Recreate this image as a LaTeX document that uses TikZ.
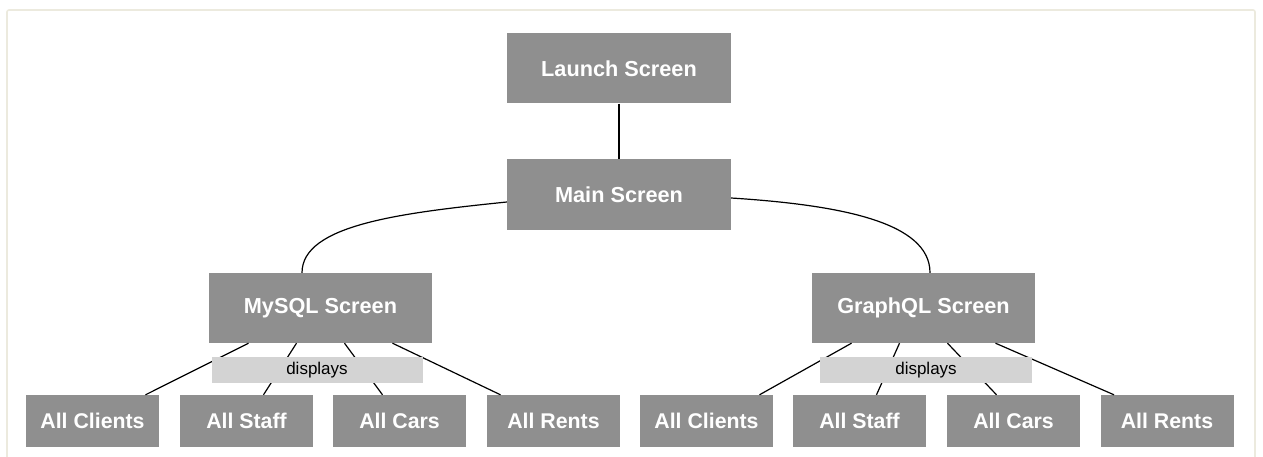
\documentclass[tikz,border=0pt]{standalone}
\usepackage{fontspec}
\setmainfont{Liberation Sans}
\usetikzlibrary{calc}
\definecolor{boxgray}{RGB}{143,143,143}
\definecolor{lblgray}{RGB}{211,211,211}
\definecolor{framec}{RGB}{236,234,222}
\begin{document}
\begin{tikzpicture}[x=1pt,y=-1pt,
  screen/.style={fill=boxgray,text=white,font=\fontsize{21.7}{25}\selectfont\bfseries,
    minimum width=224pt,minimum height=70pt,inner sep=0pt},
  leaf/.style={fill=boxgray,text=white,font=\fontsize{21.3}{25}\selectfont\bfseries,
    minimum width=133pt,minimum height=52pt,inner sep=0pt},
  lbl/.style={fill=lblgray,text=black,font=\fontsize{17}{20}\selectfont,
    minimum width=211pt,minimum height=26pt,inner sep=0pt},
  conn/.style={line width=1.2pt,black}]
\useasboundingbox (0,0) rectangle (1263,457);
\draw[framec,line width=1.6pt,rounded corners=2pt] (7,10) rectangle (1255,480);

\node[screen] (launch) at (619,68.5) {Launch Screen};
\node[screen] (main) at (619,194.5) {Main Screen};
\node[screen,minimum width=223pt] (mysql) at (320.5,308) {MySQL Screen};
\node[screen,minimum width=223pt] (graphql) at (923.5,308) {GraphQL Screen};

\node[leaf] (lc) at (92.5,421) {All Clients};
\node[leaf] (ls) at (246.5,421) {All Staff};
\node[leaf] (lca) at (399.5,421) {All Cars};
\node[leaf] (lr) at (553.5,421) {All Rents};
\node[leaf] (rc) at (706.5,421) {All Clients};
\node[leaf] (rs) at (859.5,421) {All Staff};
\node[leaf] (rca) at (1013.5,421) {All Cars};
\node[leaf] (rr) at (1167,421) {All Rents};

\draw[conn] (launch) -- (main);
\draw[conn] ([yshift=-7.5pt]main.west) .. controls (400,213) and (302,225) .. ([xshift=-18.5pt]mysql.north);
\draw[conn] ([yshift=-3.5pt]main.east) .. controls (840,205) and (930,222) .. ([xshift=6.5pt]graphql.north);

\foreach \p/\a/\b/\c/\d in {mysql/lc/ls/lca/lr, graphql/rc/rs/rca/rr}{
  \draw[conn] ([xshift=-72pt]\p.south) -- ([xshift=53pt]\a.north);
  \draw[conn] ([xshift=-24pt]\p.south) -- ([xshift=17pt]\b.north);
  \draw[conn] ([xshift=24pt]\p.south) -- ([xshift=-17pt]\c.north);
  \draw[conn] ([xshift=72pt]\p.south) -- ([xshift=-53pt]\d.north);
}

\node[lbl] (dl) at (317,370) {displays};
\node[lbl,minimum width=212pt] (dr) at (926,370) {displays};
\end{tikzpicture}
\end{document}
